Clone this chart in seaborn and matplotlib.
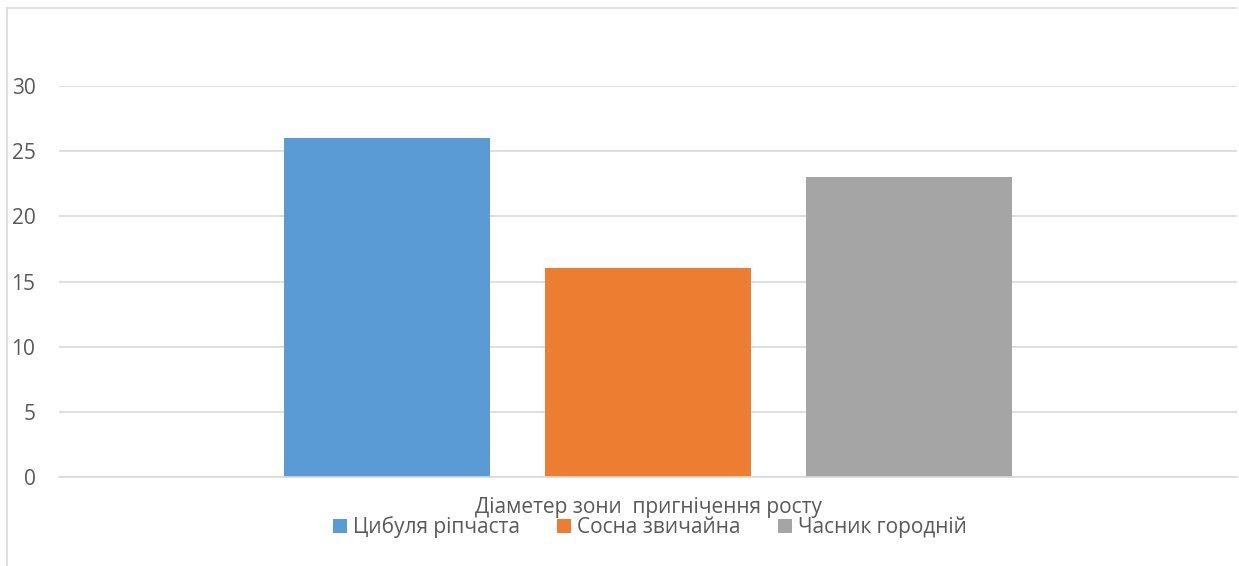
import matplotlib
matplotlib.use("Agg")
import matplotlib.pyplot as plt
import seaborn as sns
import pandas as pd
from matplotlib.lines import Line2D
from matplotlib.patches import Patch

categories = ["Цибуля ріпчаста", "Сосна звичайна", "Часник городній"]
values = [26, 16, 23]
colors = ["#5B9BD5", "#ED7D31", "#A5A5A5"]
yticks = [0, 5, 10, 15, 20, 25, 30]
xlabel = "Діаметер зони  пригнічення росту"

sns.set_theme(style="white")
plt.rcParams['font.family'] = ['Open Sans', 'DejaVu Sans']

df = pd.DataFrame({"cat": categories, "val": values})

fig = plt.figure(figsize=(12.39, 5.66), dpi=100)
W, H = 1239, 566
ax = fig.add_axes([59 / W, 1 - 477 / H, (1237 - 59) / W, (477 - 86) / H])

sns.barplot(data=df, x="cat", y="val", hue="cat", order=categories,
            hue_order=categories, palette=colors, width=0.79, dodge=False,
            legend=False, ax=ax, saturation=1, linewidth=0)

ax.set_xlim(-1.257, 3.257)
ax.set_ylim(0, 30)
ax.set_yticks(yticks)
ax.set_xticks([])
ax.yaxis.grid(True, color="#D9D9D9", linewidth=1.2)
ax.set_axisbelow(True)
for s in ["top", "right", "left"]:
    ax.spines[s].set_visible(False)
ax.spines["bottom"].set_color("#D9D9D9")
ax.spines["bottom"].set_linewidth(1.2)
ax.tick_params(axis="y", length=0, pad=17, labelsize=15, labelcolor="#595959")
ax.set_ylabel("")
ax.set_xlabel("")

fig.text(648 / W, 1 - 507 / H, xlabel, ha="center", va="center",
         fontsize=15, color="#595959")

handles = [Patch(facecolor=c, edgecolor="none") for c in colors]
fig.legend(handles, categories, loc="center", bbox_to_anchor=(650 / W, 1 - 527 / H),
           ncol=3, frameon=False, fontsize=15, labelcolor="#595959",
           handlelength=0.65, handleheight=0.65, handletextpad=0.3,
           columnspacing=1.8, borderaxespad=0, borderpad=0)

# chart-area border (top and left visible)
fig.add_artist(Line2D([7 / W, 7 / W], [0, 1 - 8 / H], color="#D9D9D9", linewidth=1.2,
                      transform=fig.transFigure))
fig.add_artist(Line2D([7 / W, 1237 / W], [1 - 8 / H, 1 - 8 / H], color="#D9D9D9",
                      linewidth=1.2, transform=fig.transFigure))

fig.savefig("out.png", dpi=100)
